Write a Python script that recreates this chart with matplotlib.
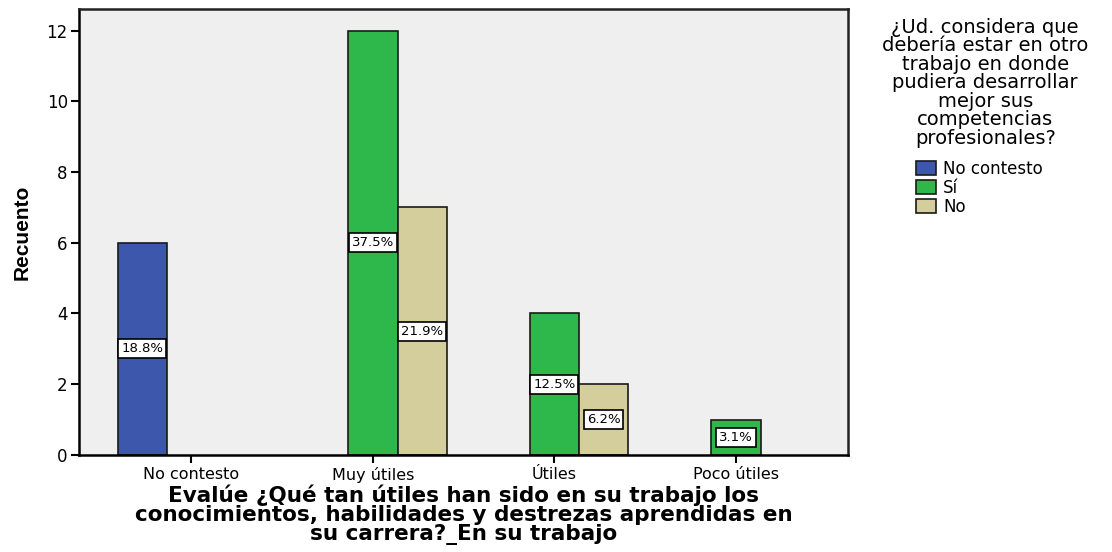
import numpy as np
import matplotlib.pyplot as plt

plt.rcParams['font.family'] = ['DejaVu Sans']

categorias = ["No contesto", "Muy útiles", "Útiles", "Poco útiles"]
series = ["No contesto", "Sí", "No"]
recuento = {
    "No contesto": [6, 0, 0, 0],
    "Sí": [0, 12, 4, 1],
    "No": [0, 7, 2, 0],
}
porcentajes = {
    "No contesto": ["18.8%", "", "", ""],
    "Sí": ["", "37.5%", "12.5%", "3.1%"],
    "No": ["", "21.9%", "6.2%", ""],
}
colores = ["#3d57ad", "#2eb84b", "#d3ce9b"]

fig = plt.figure(figsize=(11.12, 5.52), dpi=100)
ax = fig.add_axes([0.071, 0.176, 0.692, 0.808])
ax.set_facecolor("#efefef")

x = np.arange(len(categorias))
w = 0.271
for i, s in enumerate(series):
    vals = np.array(recuento[s])
    pos = x + (i - 1) * w
    for p, v, lab in zip(pos, vals, porcentajes[s]):
        if v == 0:
            continue
        ax.bar(p, v, width=w, color=colores[i], edgecolor="#1a1a1a", linewidth=1.2, zorder=2)
        ax.text(p, v / 2, lab, ha="center", va="center", fontsize=9.5, zorder=3,
                bbox=dict(boxstyle="square,pad=0.22", facecolor="white", edgecolor="black", linewidth=1.2))

ax.set_xlim(-0.62, 3.62)
ax.set_ylim(0, 12.62)
ax.set_yticks([0, 2, 4, 6, 8, 10, 12])
ax.set_xticks(x)
ax.set_xticklabels(categorias, fontsize=11.5)
ax.tick_params(axis="y", labelsize=12, length=6, width=1.5, pad=2)
ax.tick_params(axis="x", length=6, width=1.5, pad=3)
for sp in ["left", "bottom"]:
    ax.spines[sp].set_linewidth(1.8)
for sp in ["top", "right"]:
    ax.spines[sp].set_linewidth(1.8)
    ax.spines[sp].set_color("#222222")

ax.set_ylabel("Recuento", fontsize=15, fontweight="bold", family=["Liberation Sans", "DejaVu Sans"])
ax.yaxis.set_label_coords(-0.061, 0.5)
ax.set_xlabel("Evalúe ¿Qué tan útiles han sido en su trabajo los\nconocimientos, habilidades y destrezas aprendidas en\nsu carrera?_En su trabajo",
              fontsize=15.5, fontweight="bold", linespacing=0.93, labelpad=1)

fig.text(0.886, 0.968, "¿Ud. considera que\ndebería estar en otro\ntrabajo en donde\npudiera desarrollar\nmejor sus\ncompetencias\nprofesionales?",
         ha="center", va="top", fontsize=14, linespacing=0.97)

handles = [plt.Rectangle((0, 0), 1, 1, facecolor=c, edgecolor="#1a1a1a", linewidth=1.2) for c in colores]
fig.legend(handles, series, loc="upper left", bbox_to_anchor=(0.815, 0.728), frameon=False,
           fontsize=12, handlelength=1.2, handleheight=0.9, handletextpad=0.4, labelspacing=0.05,
           borderpad=0.1)

fig.savefig("out.png", dpi=100)
